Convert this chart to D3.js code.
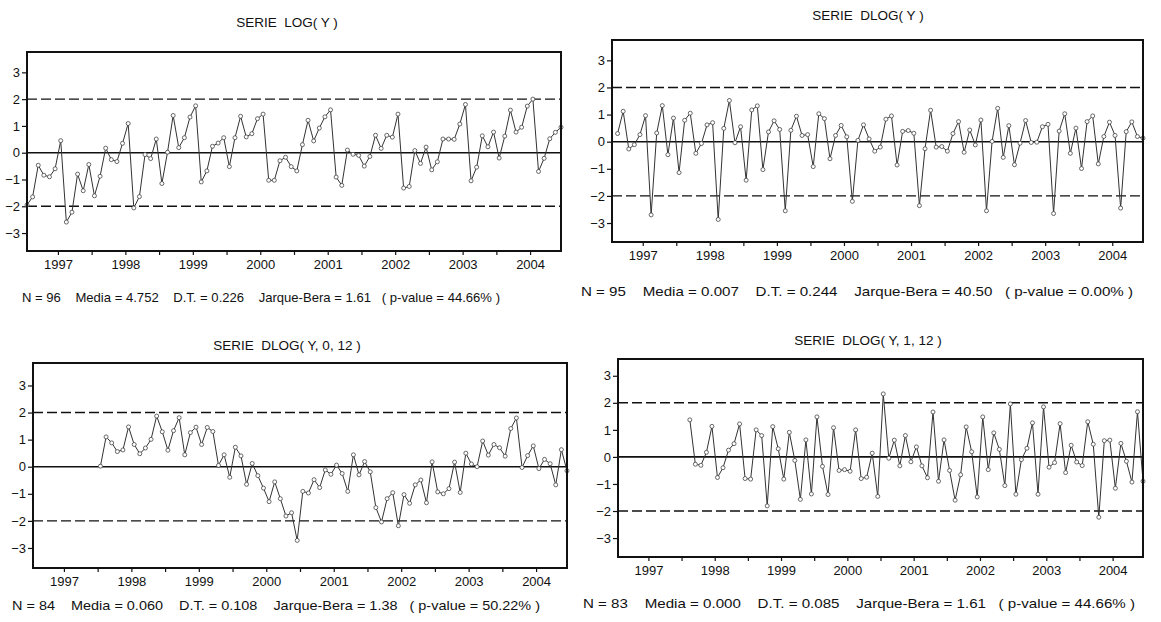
<!DOCTYPE html>
<html>
<head>
<meta charset="utf-8">
<script src="https://cdn.jsdelivr.net/npm/d3@7"></script>
<style>
  html, body { margin: 0; padding: 0; background: #fff; }
  svg text { font-family: "Liberation Sans", Arial, Helvetica, sans-serif; fill: #111; white-space: pre; }
</style>
</head>
<body>
<svg id="chart" width="1161" height="622"></svg>
<script>
// ---------- DATA ----------
const years = ["1997", "1998", "1999", "2000", "2001", "2002", "2003", "2004"];
const yTicks = [-3, -2, -1, 0, 1, 2, 3];
const bandLevels = [-2, 2];

const titles = [
  "SERIE  LOG( Y )",
  "SERIE  DLOG( Y )",
  "SERIE  DLOG( Y, 0, 12 )",
  "SERIE  DLOG( Y, 1, 12 )"
];

const statsText = [
  "N = 96    Media = 4.752    D.T. = 0.226    Jarque-Bera = 1.61   ( p-value = 44.66% )",
  "N = 95    Media = 0.007    D.T. = 0.244    Jarque-Bera = 40.50   ( p-value = 0.00% )",
  "N = 84    Media = 0.060    D.T. = 0.108    Jarque-Bera = 1.38   ( p-value = 50.22% )",
  "N = 83    Media = 0.000    D.T. = 0.085    Jarque-Bera = 1.61   ( p-value = 44.66% )"
];

// first observation index (months from 1997:01) of each series
const seriesStart = [0, 1, 12, 13];

// standardized LOG(Y), 1997:01 - 2004:12
const logY = [
  -1.95, -1.65, -0.47, -0.84, -0.90, -0.60, 0.45, -2.59, -2.22, -0.80, -1.42, -0.44,
  -1.61, -0.88, 0.17, -0.26, -0.33, 0.35, 1.09, -2.06, -1.64, -0.07, -0.22, 0.51,
  -1.15, 0.02, 1.39, 0.19, 0.56, 1.33, 1.75, -1.09, -0.68, 0.24, 0.36, 0.56,
  -0.52, 0.56, 1.36, 0.59, 0.71, 1.27, 1.44, -1.03, -1.03, -0.30, -0.17, -0.52,
  -0.68, 0.30, 1.21, 0.44, 0.92, 1.34, 1.60, -0.91, -1.22, 0.10, -0.06, -0.10,
  -0.50, -0.14, 0.65, 0.16, 0.65, 0.58, 1.44, -1.32, -1.26, 0.08, -0.40, 0.21,
  -0.64, -0.34, 0.51, 0.51, 0.50, 1.07, 1.80, -1.05, -0.54, 0.63, 0.22, 0.77,
  -0.20, 0.62, 1.59, 0.77, 0.95, 1.74, 2.00, -0.70, -0.21, 0.52, 0.76, 0.95
];

// standardized DLOG(Y), 1997:02 - 2004:12
const dlogY = [
  0.30, 1.12, -0.27, -0.11, 0.26, 0.96, -2.70, 0.32, 1.33, -0.48, 0.87,
  -1.14, 0.79, 1.05, -0.43, -0.07, 0.62, 0.70, -2.87, 0.49, 1.52, -0.04, 0.55,
  -1.42, 1.17, 1.32, -1.03, 0.36, 0.77, 0.45, -2.55, 0.42, 0.94, 0.23, 0.26,
  -0.92, 1.03, 0.85, -0.63, 0.23, 0.60, 0.18, -2.20, 0.05, 0.62, 0.10, -0.35,
  -0.20, 0.83, 0.95, -0.86, 0.38, 0.41, 0.31, -2.36, -0.26, 1.16, -0.20, -0.18,
  -0.35, 0.30, 0.74, -0.39, 0.43, -0.12, 0.80, -2.55, 0.01, 1.23, -0.58, 0.59,
  -0.85, -0.06, 0.78, -0.03, -0.02, 0.55, 0.64, -2.65, 0.39, 1.03, -0.43, 0.50,
  -0.99, 0.74, 0.95, -0.82, 0.19, 0.72, 0.23, -2.45, 0.37, 0.73, 0.19, 0.13
];

// standardized DLOG(Y, 0, 12), 1998:01 - 2004:12
const dlogY012 = [
  0.02, 1.10, 0.88, 0.56, 0.62, 1.47, 0.82, 0.48, 0.69, 1.01, 1.87, 1.29,
  0.61, 1.33, 1.81, 0.44, 1.26, 1.46, 0.82, 1.45, 1.30, 0.05, 0.44, -0.39,
  0.72, 0.40, -0.65, 0.12, -0.33, -0.79, -1.29, -0.56, -1.18, -1.82, -1.70, -2.72,
  -0.91, -0.97, -0.48, -0.77, -0.12, -0.28, 0.06, -0.25, -0.91, 0.44, -0.30, 0.19,
  -0.19, -1.51, -2.04, -1.18, -0.96, -2.18, -1.03, -1.35, -0.67, -0.49, -1.33, 0.18,
  -0.93, -1.00, -0.81, 0.17, -0.95, 0.50, 0.10, 0.00, 0.95, 0.43, 0.82, 0.70,
  0.39, 1.41, 1.80, -0.03, 0.41, 0.77, -0.07, 0.27, 0.11, -0.67, 0.63, -0.15
];

// standardized DLOG(Y, 1, 12), 1998:02 - 2004:12
const dlogY112 = [
  1.37, -0.27, -0.31, 0.17, 1.13, -0.76, -0.40, 0.25, 0.49, 1.22, -0.80,
  -0.82, 1.00, 0.79, -1.81, 1.12, 0.30, -0.82, 0.91, -0.13, -1.57, 0.63, -1.37,
  1.48, -0.35, -1.39, 1.08, -0.50, -0.47, -0.53, 1.00, -0.80, -0.75, 0.14, -1.46,
  2.33, -0.05, 0.62, -0.33, 0.79, -0.18, 0.37, -0.33, -0.77, 1.66, -0.90, 0.63,
  -0.50, -1.60, -0.66, 1.11, 0.19, -1.48, 1.48, -0.47, 0.89, 0.28, -1.06, 1.96,
  -1.38, -0.10, 0.32, 1.26, -1.38, 1.85, -0.38, -0.21, 1.23, -0.58, 0.43, -0.19,
  -0.32, 1.30, 0.47, -2.23, 0.60, 0.62, -1.16, 0.50, -0.16, -0.93, 1.67, -0.90
];

const seriesList = [logY, dlogY, dlogY012, dlogY112];

// ---------- LAYOUT ----------
const nObs = 96;
const panels = [
  { x0: 27,  x1: 561,  y0: 52,  y1: 251, yTop: 3.76, yBot: -3.67, titleX: 287, titleY: 27,  statX: 22,  statY: 302, statW: 478 },
  { x0: 612, x1: 1143, y0: 40,  y1: 242, yTop: 3.75, yBot: -3.70, titleX: 868, titleY: 20,  statX: 581, statY: 296, statW: 552 },
  { x0: 33,  x1: 567,  y0: 363, y1: 568, yTop: 3.83, yBot: -3.74, titleX: 287, titleY: 350, statX: 12,  statY: 610, statW: 528 },
  { x0: 618, x1: 1143, y0: 359, y1: 557, yTop: 3.62, yBot: -3.70, titleX: 868, titleY: 345, statX: 583, statY: 608, statW: 552 }
];

const svg = d3.select("#chart");

panels.forEach((p, i) => {
  const g = svg.append("g");
  const x = d3.scaleLinear().domain([0, nObs - 1]).range([p.x0, p.x1]);
  const y = d3.scaleLinear().domain([p.yBot, p.yTop]).range([p.y1, p.y0]);

  // title
  g.append("text")
    .attr("x", p.titleX).attr("y", p.titleY)
    .attr("text-anchor", "middle")
    .attr("font-size", 13.5)
    .text(titles[i]);

  // y axis
  const yAxis = g.append("g")
    .attr("transform", `translate(${p.x0},0)`)
    .call(d3.axisLeft(y).tickValues(yTicks).tickSize(5).tickPadding(2).tickFormat(d3.format("d")));
  yAxis.select(".domain").remove();
  yAxis.selectAll("text").attr("font-size", 13).attr("fill", "#111").style("font-family", "Liberation Sans, Arial, sans-serif");
  yAxis.selectAll("line").attr("stroke", "#111").attr("stroke-width", 1.2);

  // x axis ticks: half-year marks
  const halfTicks = d3.range(0, nObs + 1, 6).map(v => v - 0.5).filter(v => v > 0 && v < nObs - 1);
  const xTickAxis = g.append("g")
    .attr("transform", `translate(0,${p.y1})`)
    .call(d3.axisBottom(x).tickValues(halfTicks).tickSize(4).tickFormat(""));
  xTickAxis.select(".domain").remove();
  xTickAxis.selectAll("line").attr("stroke", "#111").attr("stroke-width", 1.2);

  // x axis labels: year centers
  const yearCenters = years.map((yr, k) => k * 12 + 5.5);
  const xLab = g.append("g")
    .attr("transform", `translate(0,${p.y1})`)
    .call(d3.axisBottom(x).tickValues(yearCenters).tickSize(0).tickPadding(9)
      .tickFormat((d, k) => years[k]));
  xLab.select(".domain").remove();
  xLab.selectAll("text").attr("font-size", 13).attr("fill", "#111").style("font-family", "Liberation Sans, Arial, sans-serif");

  // reference lines
  g.append("line")
    .attr("x1", p.x0).attr("x2", p.x1)
    .attr("y1", y(0)).attr("y2", y(0))
    .attr("stroke", "#111").attr("stroke-width", 1.6);
  bandLevels.forEach(b => {
    g.append("line")
      .attr("x1", p.x0).attr("x2", p.x1)
      .attr("y1", y(b)).attr("y2", y(b))
      .attr("stroke", "#111").attr("stroke-width", 1.4)
      .attr("stroke-dasharray", "10,4");
  });

  // series
  const data = seriesList[i].map((v, k) => ({ t: seriesStart[i] + k, v }));
  g.append("path")
    .datum(data)
    .attr("fill", "none")
    .attr("stroke", "#333")
    .attr("stroke-width", 1)
    .attr("d", d3.line().x(d => x(d.t)).y(d => y(d.v)));
  g.selectAll("circle.pt")
    .data(data)
    .join("circle")
    .attr("class", "pt")
    .attr("cx", d => x(d.t)).attr("cy", d => y(d.v))
    .attr("r", 2)
    .attr("fill", "#fff")
    .attr("stroke", "#444")
    .attr("stroke-width", 0.8);

  // frame
  g.append("rect")
    .attr("x", p.x0).attr("y", p.y0)
    .attr("width", p.x1 - p.x0).attr("height", p.y1 - p.y0)
    .attr("fill", "none")
    .attr("stroke", "#111")
    .attr("stroke-width", 2);

  // statistics line
  g.append("text")
    .attr("x", p.statX).attr("y", p.statY)
    .attr("font-size", 13.5)
    .attr("textLength", p.statW)
    .attr("lengthAdjust", "spacingAndGlyphs")
    .text(statsText[i]);
});
</script>
</body>
</html>
